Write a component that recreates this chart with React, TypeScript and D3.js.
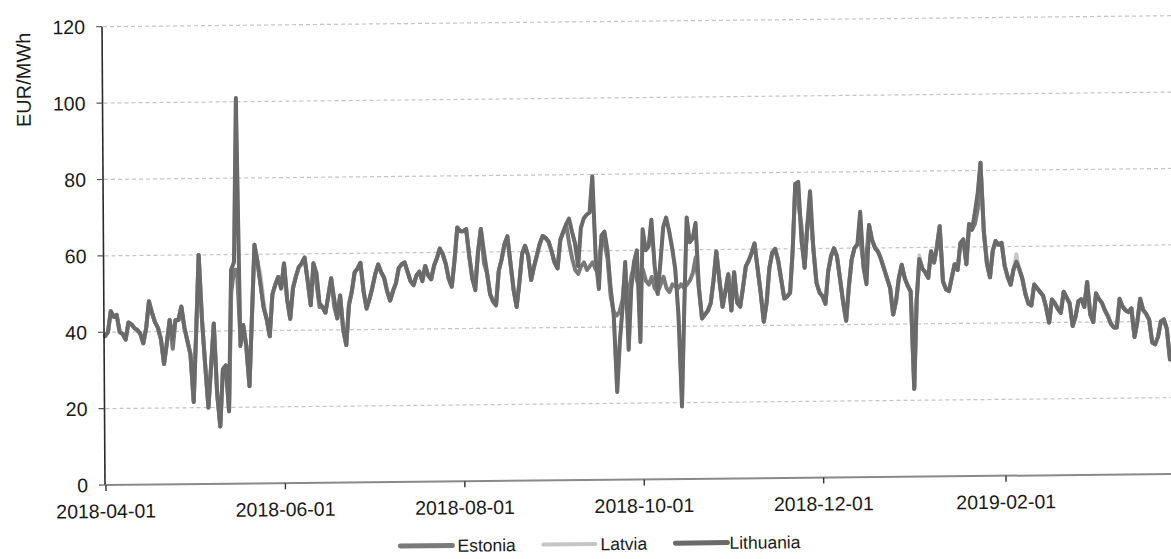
import React from "react";
import * as d3 from "d3";

const width = 1171;
const height = 559;

// daily prices, 2018-04-01 .. 2019-03-31
const startDay = "2018-04-01";
const endDay = "2019-03-31";

const yTicks = [0, 20, 40, 60, 80, 100, 120];
const xTickLabels = ["2018-04-01", "2018-06-01", "2018-08-01", "2018-10-01", "2018-12-01", "2019-02-01"];

const seriesNames = ["Estonia", "Latvia", "Lithuania"];

const estonia = [
  39, 40, 45.5, 44, 44.5, 40, 39.5, 38, 42.5, 42,
  41, 40.5, 39.5, 37, 41, 48, 45, 42.5, 41, 38,
  31.5, 37, 43, 35.5, 43, 43, 46.5, 41, 37.5, 34,
  21.5, 40, 60, 43, 31, 20, 31, 42, 23.5, 15,
  30, 31, 19, 50, 56, 56, 38, 41.5, 36, 25.5,
  44, 62.5, 58, 52, 46, 43, 38.5, 49.5, 52, 54,
  51, 57.5, 48, 43, 51, 54, 56.5, 57.5, 59, 53,
  46.5, 57.5, 52, 46, 46, 44.5, 49, 53.5, 46, 43,
  49, 40, 36, 46.5, 50, 55, 56, 57.5, 50, 45.5,
  48, 51, 54.5, 57, 55, 53.5, 50, 47.5, 50, 52,
  56, 57, 57.5, 55, 52.5, 51.5, 54, 55, 52.5, 56.5,
  54, 53, 56.5, 58.5, 61, 59.5, 57, 53, 51, 58,
  66.5, 65.5, 65.5, 66, 59, 53, 52, 60, 66, 57,
  54.5, 49, 47, 46, 55, 58, 62, 64, 57, 50,
  45.5, 52, 59.5, 61.5, 59, 52.5, 56, 59, 62, 64,
  63.5, 62.5, 60, 57, 55.5, 63, 65, 67, 62, 58,
  55, 54, 56, 57, 55, 56, 57, 55, 56.5, 63,
  62, 58, 48, 44, 43, 44, 47, 55, 45, 53,
  56, 52, 50, 55, 52, 51, 53, 50, 49, 51,
  53, 50, 49, 51, 50.5, 50, 51, 50, 51, 52,
  54, 58, 50, 42, 43, 44, 46, 52, 59.5, 52,
  45, 49, 53.5, 44, 54, 46, 45, 50, 55.5, 57,
  59, 61.5, 55, 48.5, 41, 46, 55, 59, 60, 57,
  52, 47, 47.5, 48.5, 60, 77, 72, 66, 55, 66,
  70, 60, 51, 48.5, 47.5, 45.5, 54, 58, 60, 58,
  52, 46, 41, 50, 57, 60, 61, 62, 56, 58,
  66, 62, 60, 59, 57, 54.5, 52, 49.5, 42.5, 46,
  52, 55.5, 52, 50, 48.5, 23, 46, 57, 54.5, 53.5,
  52, 59, 56, 60, 65.5, 51, 49, 48.5, 52, 55.5,
  54, 61, 62, 55.5, 66, 64.5, 66, 70, 82, 64,
  55.5, 52, 59, 61.5, 60.5, 61, 55, 52, 50, 54,
  56, 54, 51.5, 47.5, 45, 44.5, 50, 49, 48, 47,
  44, 40, 46, 45, 43.5, 42.5, 48, 46.5, 45, 39,
  41.5, 45.5, 46, 44, 50.5, 42, 40, 47.5, 46, 45,
  43, 41.5, 39.5, 38.5, 38.5, 46, 44, 43, 42.5, 43.5,
  36, 40, 46, 43, 42, 40.5, 34.5, 34, 36, 40,
  40.5, 38, 30, 31, 33,
];

const latvia = [
  39, 40, 45.5, 44, 44.5, 40, 39.5, 38, 42.5, 42,
  41, 40.5, 39.5, 37, 41, 48, 45, 42.5, 41, 38,
  31.5, 37, 43, 38, 43, 43, 46.5, 41, 37.5, 34,
  21.5, 40, 60, 43, 31, 20, 31, 42, 23.5, 15,
  30, 31, 19, 56, 58, 101, 36, 41.5, 36, 25.5,
  44, 62.5, 58, 55, 48, 43, 38.5, 49.5, 52, 54,
  51, 57.5, 48, 43, 51, 54, 56.5, 57.5, 59, 53,
  46.5, 57.5, 55, 47, 46, 44.5, 49, 53.5, 48, 43,
  49, 40, 36, 46.5, 50, 55, 56, 57.5, 50, 45.5,
  48, 51, 54.5, 57, 55, 53.5, 50, 47.5, 50, 52,
  56, 57, 57.5, 55, 52.5, 51.5, 54, 55, 52.5, 56.5,
  54, 53, 56.5, 58.5, 61, 59.5, 57, 53, 51, 58,
  66.5, 65.5, 65.5, 66, 59, 53, 50, 60, 66, 60,
  54.5, 49, 47, 46, 55, 58, 62, 64, 57, 50,
  45.5, 52, 59.5, 61.5, 59, 52.5, 56, 59, 62, 64,
  63.5, 62.5, 60, 57, 55.5, 63, 65, 67, 68.5, 65,
  62, 56, 66, 68.5, 69.5, 70, 79.5, 58, 50, 64,
  65, 60, 50, 43, 23, 36, 45, 57, 34, 50,
  57, 60, 36, 65.5, 60, 61, 68, 56, 48.5, 57,
  66, 68.5, 65, 60.5, 55, 43, 19, 45, 68.5, 62,
  63, 67, 50, 42, 43, 44, 46, 52, 59.5, 52,
  45, 49, 53.5, 44, 54, 46, 45, 50, 55.5, 57,
  59, 61.5, 55, 48.5, 41, 46, 55, 59, 60, 57,
  52, 47, 47.5, 48.5, 60, 77, 77.5, 62, 55, 66,
  75, 60, 51, 48.5, 47.5, 45.5, 54, 58, 60, 58,
  52, 46, 41, 50, 57, 60, 61, 69.5, 55, 50.5,
  66, 62, 60, 59, 57, 54.5, 52, 49.5, 42.5, 46,
  52, 55.5, 52, 50, 48.5, 23, 46, 58, 54.5, 53.5,
  52, 59, 56, 60, 65.5, 51, 49, 48.5, 52, 55.5,
  54, 61, 62, 55.5, 66, 64.5, 69, 74, 82, 64,
  55.5, 52, 59, 61.5, 60.5, 61, 55, 52, 50, 54,
  58, 54, 51.5, 47.5, 45, 44.5, 50, 49, 48, 47,
  44, 40, 46, 45, 43.5, 44, 48, 46.5, 45, 39,
  41.5, 45.5, 46, 44, 50.5, 42, 40, 47.5, 46, 45,
  43, 41.5, 39.5, 38.5, 38.5, 46, 44, 43, 42.5, 43.5,
  36, 40, 46, 43, 42, 40.5, 34.5, 34, 36, 40,
  40.5, 38, 30, 31, 33,
];

const lithuania = [
  39, 40, 45.5, 44, 44.5, 40, 39.5, 38, 42.5, 42,
  41, 40.5, 39.5, 37, 41, 48, 45, 42.5, 41, 38,
  31.5, 37, 43, 38, 43, 43, 46.5, 41, 37.5, 34,
  21.5, 40, 60, 43, 31, 20, 31, 42, 23.5, 15,
  30, 31, 19, 56, 58, 101, 36, 41.5, 36, 25.5,
  44, 62.5, 58, 52, 46, 43, 38.5, 49.5, 52, 54,
  51, 57.5, 48, 43, 51, 54, 56.5, 57.5, 59, 53,
  46.5, 57.5, 55, 47, 46, 44.5, 49, 53.5, 48, 43,
  49, 40, 36, 46.5, 50, 55, 56, 57.5, 50, 45.5,
  48, 51, 54.5, 57, 55, 53.5, 50, 47.5, 50, 52,
  56, 57, 57.5, 55, 52.5, 51.5, 54, 55, 52.5, 56.5,
  54, 53, 56.5, 58.5, 61, 59.5, 57, 53, 51, 58,
  66.5, 65.5, 65.5, 66, 59, 53, 50, 60, 66, 60,
  54.5, 49, 47, 46, 55, 58, 62, 64, 57, 50,
  45.5, 52, 59.5, 61.5, 59, 52.5, 56, 59, 62, 64,
  63.5, 62.5, 60, 57, 55.5, 63, 65, 67, 68.5, 65,
  62, 56, 66, 68.5, 69.5, 70, 79.5, 58, 50, 64,
  65, 60, 50, 43, 23, 36, 45, 57, 34, 50,
  57, 60, 36, 65.5, 60, 61, 68, 56, 48.5, 57,
  66, 68.5, 65, 60.5, 55, 43, 19, 45, 68.5, 62,
  63, 67, 50, 42, 43, 44, 46, 52, 59.5, 52,
  45, 49, 53.5, 44, 54, 46, 45, 50, 55.5, 57,
  59, 61.5, 55, 48.5, 41, 46, 55, 59, 60, 57,
  52, 47, 47.5, 48.5, 60, 77, 77.5, 62, 55, 66,
  75, 60, 51, 48.5, 47.5, 45.5, 54, 58, 60, 58,
  52, 46, 41, 50, 57, 60, 61, 69.5, 55, 50.5,
  66, 62, 60, 59, 57, 54.5, 52, 49.5, 42.5, 46,
  52, 55.5, 52, 50, 48.5, 23, 46, 57, 54.5, 53.5,
  52, 59, 56, 60, 65.5, 51, 49, 48.5, 52, 55.5,
  54, 61, 62, 55.5, 66, 64.5, 69, 74, 82, 64,
  55.5, 52, 59, 61.5, 60.5, 61, 55, 52, 50, 54,
  56, 54, 51.5, 47.5, 45, 44.5, 50, 49, 48, 47,
  44, 40, 46, 45, 43.5, 42.5, 48, 46.5, 45, 39,
  41.5, 45.5, 46, 44, 50.5, 42, 40, 47.5, 46, 45,
  43, 41.5, 39.5, 38.5, 38.5, 46, 44, 43, 42.5, 43.5,
  36, 40, 46, 43, 42, 40.5, 34.5, 34, 36, 40,
  40.5, 38, 30, 31, 33,
];

const colors = ["#7a7a7a", "#c6c6c6", "#6a6a6a"];
const strokeWidths = [4, 3.6, 4];

const font = "'Liberation Sans', Arial, sans-serif";

export default function App() {
  const parse = d3.utcParse("%Y-%m-%d");
  const start = parse(startDay) as Date;
  const end = parse(endDay) as Date;

  const x = d3.scaleUtc().domain([start, end]).range([106, 1176.6]);
  const y = d3.scaleLinear().domain([0, 120]).range([485, 26.7]);

  const line = d3
    .line<number>()
    .x((d, i) => x(d3.utcDay.offset(start, i)))
    .y((d) => y(d));

  const series = [estonia, latvia, lithuania];

  // the source is a slightly skewed scan
  const skew = "matrix(1,-0.0103,0.0065,1,-3.15,1.09)";

  const legendX = [400, 543, 675];

  return (
    <svg
      width={width}
      height={height}
      style={{ position: "absolute", left: 0, top: 0, background: "#fff" }}
      fontFamily={font}
    >
      <rect width={width} height={height} fill="#fff" />
      <g transform={skew}>
        {/* grid */}
        {yTicks.slice(1).map((t) => (
          <line
            key={t}
            x1={106}
            x2={1180}
            y1={y(t)}
            y2={y(t)}
            stroke="#c4c4c4"
            strokeWidth={1.2}
            strokeDasharray="4,3"
          />
        ))}

        {/* series */}
        {series.map((s, i) => (
          <path
            key={seriesNames[i]}
            d={line(s) || ""}
            fill="none"
            stroke={colors[i]}
            strokeWidth={strokeWidths[i]}
            strokeLinejoin="round"
            strokeLinecap="round"
          />
        ))}

        {/* y axis */}
        <line x1={105} x2={105} y1={y(120)} y2={y(0)} stroke="#2a2a2a" strokeWidth={1.6} />
        {yTicks.map((t) => (
          <g key={t}>
            <line x1={99} x2={105} y1={y(t)} y2={y(t)} stroke="#555" strokeWidth={1.2} />
            <text
              x={88}
              y={y(t)}
              dy="0.36em"
              textAnchor="end"
              fontSize={19.5}
              fill="#1a1a1a"
            >
              {t}
            </text>
          </g>
        ))}
        <text
          transform={`translate(26,79) rotate(-90)`}
          textAnchor="middle"
          dy="0.36em"
          fontSize={20}
          fill="#1a1a1a"
        >
          EUR/MWh
        </text>

        {/* x axis */}
        <line x1={105} x2={1180} y1={485} y2={485} stroke="#8a8a8a" strokeWidth={2} />
        {xTickLabels.map((lab) => {
          const px = x(parse(lab) as Date);
          return (
            <g key={lab}>
              <line x1={px} x2={px} y1={485} y2={491} stroke="#333" strokeWidth={1.4} />
              <text x={px} y={518} textAnchor="middle" fontSize={19.5} fill="#1a1a1a">
                {lab}
              </text>
            </g>
          );
        })}

        {/* legend */}
        {seriesNames.map((name, i) => (
          <g key={name}>
            <line
              x1={legendX[i]}
              x2={legendX[i] + 52}
              y1={549}
              y2={549}
              stroke={colors[i]}
              strokeWidth={i === 1 ? 4 : 5}
              strokeLinecap="round"
            />
            <text x={legendX[i] + (i === 2 ? 54 : 57)} y={549} dy="0.36em" fontSize={17.5} fill="#1a1a1a">
              {name}
            </text>
          </g>
        ))}
      </g>
    </svg>
  );
}
